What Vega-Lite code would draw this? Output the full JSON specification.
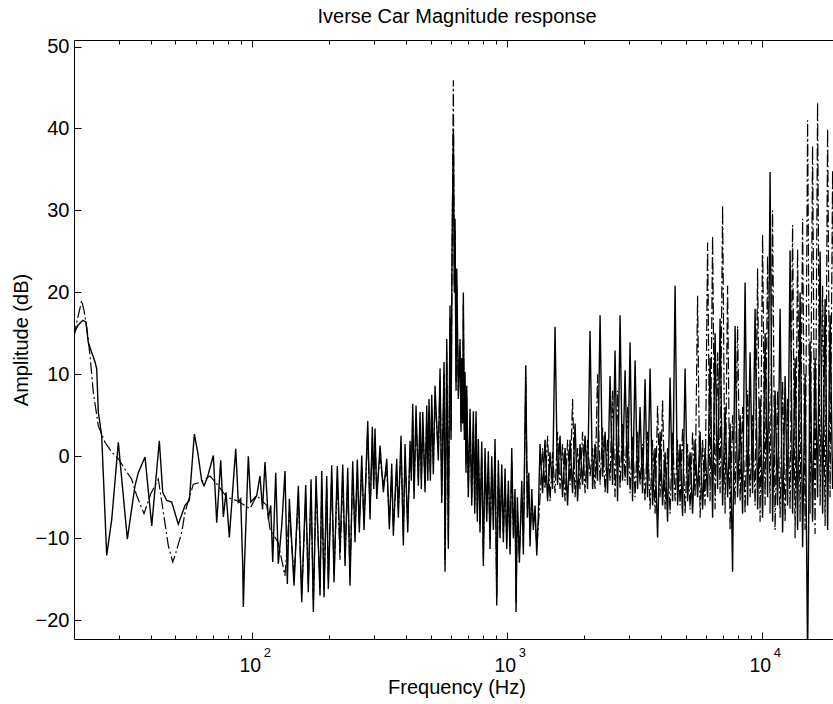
{
"$schema":"https://vega.github.io/schema/vega-lite/v6.json",
"width":759,"height":599,
"autosize":{"type":"none"},
"padding":{"left":74,"top":40,"right":0,"bottom":65},
"background":"white",
"config":{"view":{"stroke":null},"font":"Liberation Sans",
 "axis":{"grid":false,"domainColor":"black","tickColor":"black","labelColor":"black","titleColor":"black","labelFont":"Liberation Sans","titleFont":"Liberation Sans","labelFontSize":20,"titleFontSize":20,"titleFontWeight":"normal","domainWidth":1,"tickWidth":1,"labelFlush":false}},
"title":{"text":"Iverse Car Magnitude response","font":"Liberation Sans","fontSize":20,"fontWeight":"normal","color":"black","anchor":"middle","baseline":"alphabetic","offset":-6,"dx":3.5},
"datasets":{
"solid":[
{"f":20.0,"db":15.0},{"f":20.74,"db":16.0},{"f":21.63,"db":16.6},{"f":22.28,"db":16.4},{"f":22.75,"db":13.9},{"f":24.18,"db":11.5},{"f":24.55,"db":10.7},{"f":24.91,"db":5.4},{"f":25.68,"db":2.5},{"f":26.87,"db":-12.1},{"f":28.12,"db":-7.7},{"f":29.84,"db":1.7},{"f":32.37,"db":-10.1},{"f":34.69,"db":-3.6},{"f":35.74,"db":-2.0},{"f":37.98,"db":-0.1},{"f":40.35,"db":-8.5},{"f":41.56,"db":-4.0},{"f":43.22,"db":1.9},{"f":44.55,"db":-4.4},{"f":46.19,"db":-5.4},{"f":48.33,"db":-5.6},{"f":51.29,"db":-8.3},{"f":54.5,"db":-6.0},{"f":56.66,"db":-5.4},{"f":59.27,"db":2.7},{"f":61.11,"db":0.5},{"f":63.37,"db":-3.0},{"f":64.69,"db":-3.6},{"f":66.66,"db":-2.6},{"f":70.37,"db":0.1},{"f":72.56,"db":-8.1},{"f":75.22,"db":-0.5},{"f":77.02,"db":-7.4},{"f":78.91,"db":-4.4},{"f":81.31,"db":-9.9},{"f":83.53,"db":-4.8},{"f":86.13,"db":0.9},{"f":88.17,"db":-5.6},{"f":90.11,"db":-5.2},{"f":91.76,"db":-13.4},{"f":92.26,"db":-18.4},{"f":93.27,"db":-13.0},{"f":96.51,"db":0.0},{"f":98.62,"db":-5.6},{"f":104.12,"db":-4.8},{"f":107.26,"db":-2.4},{"f":109.71,"db":-6.5},{"f":112.21,"db":-0.7},{"f":115.6,"db":-7.7},{"f":118.14,"db":-6.0},{"f":120.3,"db":-12.9},{"f":123.6,"db":-2.0},{"f":126.52,"db":-13.1},{"f":130.49,"db":-8.5},{"f":134.43,"db":-1.8},{"f":137.26,"db":-15.6},
{"f":139.78,"db":-5.2},{"f":145.83,"db":-15.8},{"f":151.6,"db":-3.6},{"f":156.29,"db":-17.8},{"f":162.03,"db":-3.5},{"f":165.86,"db":-16.6},{"f":170.03,"db":-2.8},{"f":173.61,"db":-19.0},{"f":177.88,"db":-2.4},{"f":184.4,"db":-17.0},{"f":187.26,"db":-1.8},{"f":191.18,"db":-17.2},{"f":195.91,"db":-2.4},{"f":198.73,"db":-16.2},{"f":204.94,"db":-1.1},{"f":209.22,"db":-15.4},{"f":215.56,"db":-1.2},{"f":220.9,"db":-11.7},{"f":226.35,"db":-1.0},{"f":231.1,"db":-13.4},{"f":236.8,"db":-1.4},{"f":241.7,"db":-15.8},{"f":247.66,"db":-0.6},{"f":252.86,"db":-10.5},{"f":258.19,"db":-0.4},{"f":262.92,"db":-9.3},{"f":268.71,"db":0.1},{"f":274.33,"db":-9.0},{"f":283.65,"db":4.3},{"f":289.6,"db":-7.7},{"f":295.68,"db":3.6},{"f":299.45,"db":-4.0},{"f":302.97,"db":3.4},{"f":307.67,"db":-5.2},{"f":317.0,"db":1.3},{"f":326.6,"db":-4.4},{"f":336.8,"db":-0.3},{"f":344.8,"db":-8.9},{"f":352.3,"db":-0.9},{"f":357.4,"db":-9.7},{"f":368.5,"db":-0.3},{"f":373.9,"db":-7.5},{"f":383.1,"db":2.5},{"f":391.2,"db":-10.9},{"f":397.2,"db":1.5},{"f":407.0,"db":-9.3},{"f":415.6,"db":1.9},{"f":420.5,"db":-3.0},{"f":425.9,"db":6.4},{"f":430.9,"db":-5.2},{"f":438.7,"db":6.2},{"f":447.9,"db":-3.6},{"f":454.9,"db":5.4},{"f":460.3,"db":-4.0},{"f":466.2,"db":5.4},{"f":475.9,"db":-4.4},{"f":483.3,"db":6.2},{"f":487.7,"db":-3.0},{"f":493.4,"db":7.0},{"f":499.2,"db":-3.0},{"f":505.5,"db":7.5},{"f":512.9,"db":-2.2},{"f":520.8,"db":8.6},{"f":536.5,"db":-0.5},{"f":544.9,"db":10.7},{"f":553.4,"db":-5.7},{"f":564.9,"db":11.5},{"f":570.1,"db":-14.1},{"f":578.9,"db":14.3},{"f":587.3,"db":-11.3},{"f":596.4,"db":18.4},{"f":601.8,"db":2.0},{"f":607.3,"db":25.0},{"f":614.5,"db":40.0},{"f":620.0,"db":20.0},{"f":623.9,"db":29.0},{"f":629.6,"db":8.0},{"f":633.6,"db":22.9},{"f":642.8,"db":7.0},{"f":652.7,"db":14.3},{"f":658.6,"db":3.0},{"f":662.9,"db":12.0},{"f":668.8,"db":4.0},{"f":672.4,"db":20.0},{"f":678.6,"db":2.0},{"f":682.8,"db":10.3},{"f":689.0,"db":-2.0},{"f":693.4,"db":8.6},{"f":703.4,"db":-5.0},{"f":714.4,"db":5.8},{"f":725.5,"db":-6.0},{"f":736.1,"db":5.5},{"f":745.4,"db":-7.0},{"f":754.2,"db":5.5},{"f":763.1,"db":-8.0},{"f":769.9,"db":2.1},{"f":781.9,"db":-9.3},{"f":794.0,"db":1.8},{"f":805.6,"db":-13.4},{"f":818.0,"db":1.0},{"f":830.7,"db":-8.0},{"f":842.7,"db":0.6},{"f":855.8,"db":-11.3},{"f":869.1,"db":0.0},{"f":881.8,"db":-9.0},{"f":895.3,"db":2.1},{"f":909.2,"db":-18.2},{"f":922.3,"db":-0.5},{"f":936.7,"db":-10.0},{"f":951.2,"db":-1.0},{"f":965.1,"db":-10.5},{"f":980.0,"db":-1.5},{"f":995.1,"db":-11.3},{"f":1009.5,"db":-3.0},{"f":1025.3,"db":-12.0},{"f":1041.2,"db":1.0},{"f":1056.4,"db":-10.0},{"f":1072.6,"db":-4.0},{"f":1082.4,"db":-19.0},{"f":1095.2,"db":-5.0},{"f":1115.3,"db":-13.0},{"f":1139.6,"db":-3.0},{"f":1156.2,"db":-12.0},{"f":1181.5,"db":11.1},{"f":1198.7,"db":-7.5},{"f":1214.1,"db":-2.0},{"f":1228.2,"db":-11.0},{"f":1247.3,"db":-4.0},{"f":1265.4,"db":-9.0},{"f":1284.9,"db":-6.0},{"f":1304.8,"db":-12.1},{"f":1323.9,"db":-7.0},
{"f":1344,"db":1.5},{"f":1375,"db":-4.5},{"f":1406,"db":2.0},{"f":1439,"db":-5.5},{"f":1471,"db":0.5},{"f":1505,"db":-4.0},{"f":1539,"db":15.8},{"f":1574,"db":-3.5},{"f":1610,"db":2.5},{"f":1647,"db":-5.0},{"f":1685,"db":1.0},{"f":1723,"db":-6.0},{"f":1763,"db":2.0},{"f":1803,"db":-4.5},{"f":1844,"db":4.0},{"f":1886,"db":-5.5},{"f":1929,"db":1.5},{"f":1973,"db":-3.5},{"f":2018,"db":2.5},{"f":2064,"db":-4.0},{"f":2111,"db":15.3},{"f":2160,"db":-4.0},{"f":2209,"db":1.5},{"f":2259,"db":-3.0},{"f":2311,"db":17.2},{"f":2364,"db":-2.5},{"f":2418,"db":3.0},{"f":2473,"db":-4.5},{"f":2529,"db":9.8},{"f":2587,"db":-3.5},{"f":2646,"db":12.9},{"f":2706,"db":-5.5},{"f":2768,"db":17.2},{"f":2831,"db":-3.0},{"f":2896,"db":10.5},{"f":2962,"db":-3.5},{"f":3030,"db":13.9},{"f":3099,"db":-5.5},{"f":3170,"db":11.7},{"f":3242,"db":-4.0},{"f":3316,"db":6.0},{"f":3392,"db":-4.5},{"f":3469,"db":9.4},{"f":3548,"db":-5.0},{"f":3630,"db":10.7},{"f":3713,"db":-6.0},{"f":3798,"db":1.0},{"f":3884,"db":-9.9},{"f":3973,"db":3.0},{"f":4064,"db":-6.0},{"f":4157,"db":0.5},{"f":4251,"db":-8.0},{"f":4348,"db":9.6},{"f":4447,"db":-5.5},{"f":4549,"db":20.8},{"f":4653,"db":-6.0},{"f":4759,"db":1.5},{"f":4868,"db":-7.3},{"f":4979,"db":10.7},{"f":5093,"db":-5.5},{"f":5209,"db":0.5},{"f":5328,"db":-7.0},{"f":5450,"db":2.0},{"f":5574,"db":-5.0},{"f":5701,"db":3.0},{"f":5831,"db":-6.5},{"f":5964,"db":1.0},{"f":6101,"db":-5.0},{"f":6240,"db":12.0},{"f":6383,"db":-7.5},{"f":6528,"db":15.0},{"f":6677,"db":-4.0},{"f":6830,"db":16.8},{"f":6986,"db":-6.0},{"f":7145,"db":6.0},{"f":7309,"db":-5.0},{"f":7475,"db":4.0},{"f":7646,"db":-14.1},{"f":7820,"db":15.9},{"f":7999,"db":-5.0},{"f":8181,"db":5.0},{"f":8368,"db":-7.0},{"f":8559,"db":21.2},{"f":8754,"db":-6.0},{"f":8955,"db":12.7},{"f":9159,"db":-4.5},{"f":9369,"db":18.0},{"f":9583,"db":-6.5},{"f":9800,"db":7.0},{"f":10024,"db":-7.5},{"f":10253,"db":15.0},{"f":10487,"db":-5.0},{"f":10726,"db":34.7},{"f":10971,"db":-8.0},{"f":11221,"db":8.0},{"f":11478,"db":-6.0},{"f":11740,"db":18.0},{"f":12008,"db":-9.3},{"f":12282,"db":9.8},{"f":12563,"db":-6.0},{"f":12850,"db":25.1},{"f":13143,"db":-7.0},{"f":13443,"db":12.0},{"f":13751,"db":-9.0},{"f":14066,"db":20.0},{"f":14387,"db":-11.1},{"f":14716,"db":10.0},{"f":15052,"db":-25.0},{"f":15390,"db":14.0},{"f":15741,"db":-8.0},{"f":16101,"db":12.0},{"f":16469,"db":-5.0},{"f":16850,"db":25.0},{"f":17235,"db":-7.0},{"f":17628,"db":19.2},{"f":18031,"db":-9.0},{"f":18440,"db":17.2},{"f":18861,"db":-4.0},{"f":19292,"db":5.0}
],
"dash":[
{"f":20.0,"db":14.5},{"f":20.55,"db":16.5},{"f":21.44,"db":19.0},{"f":21.89,"db":17.8},{"f":22.49,"db":15.5},{"f":23.11,"db":12.3},{"f":23.81,"db":7.8},{"f":24.91,"db":3.7},{"f":26.46,"db":1.7},{"f":28.12,"db":0.5},{"f":29.84,"db":-0.3},{"f":31.7,"db":-1.6},{"f":33.67,"db":-2.8},{"f":35.23,"db":-4.8},{"f":37.63,"db":-7.0},{"f":40.09,"db":-4.5},{"f":42.82,"db":-2.8},{"f":44.8,"db":-6.8},{"f":46.86,"db":-10.9},{"f":48.77,"db":-12.9},{"f":50.24,"db":-11.7},{"f":52.9,"db":-9.3},{"f":54.5,"db":-6.8},{"f":58.74,"db":-3.4},{"f":62.4,"db":-3.2},{"f":68.3,"db":-2.4},{"f":73.6,"db":-3.6},{"f":79.41,"db":-5.0},{"f":86.92,"db":-5.4},{"f":98.0,"db":-6.4},{"f":104.12,"db":-4.8},{"f":113.97,"db":-6.0},{"f":117.4,"db":-8.9},{"f":126.2,"db":-10.5},{"f":134.43,"db":-14.6},
{"f":139.78,"db":-6.7},{"f":145.83,"db":-14.8},{"f":151.6,"db":-5.1},{"f":156.29,"db":-16.8},{"f":162.03,"db":-5.0},{"f":165.86,"db":-15.6},{"f":170.03,"db":-4.3},{"f":173.61,"db":-18.0},{"f":177.88,"db":-3.9},{"f":184.4,"db":-16.0},{"f":187.26,"db":-3.3},{"f":191.18,"db":-16.2},{"f":195.91,"db":-3.9},{"f":198.73,"db":-15.2},{"f":204.94,"db":-2.6},{"f":209.22,"db":-14.4},{"f":215.56,"db":-2.7},{"f":220.9,"db":-12.7},{"f":226.35,"db":-2.5},{"f":231.1,"db":-12.4},{"f":236.8,"db":-2.9},{"f":241.7,"db":-14.8},{"f":247.66,"db":-2.1},{"f":252.86,"db":-9.5},{"f":258.19,"db":-1.9},{"f":262.92,"db":-8.3},{"f":268.71,"db":-1.4},{"f":274.33,"db":-8.0},{"f":283.65,"db":2.8},{"f":289.6,"db":-6.7},{"f":295.68,"db":2.1},{"f":299.45,"db":-3.0},{"f":302.97,"db":1.9},{"f":307.67,"db":-4.2},{"f":317.0,"db":-0.2},{"f":326.6,"db":-3.4},{"f":336.8,"db":-1.8},{"f":344.8,"db":-7.9},{"f":352.3,"db":-2.4},{"f":357.4,"db":-8.7},{"f":368.5,"db":-1.8},{"f":373.9,"db":-6.5},{"f":383.1,"db":1.0},{"f":391.2,"db":-9.9},{"f":397.2,"db":0.0},{"f":407.0,"db":-8.3},{"f":415.6,"db":0.4},{"f":420.5,"db":-2.0},{"f":425.9,"db":4.9},{"f":430.9,"db":-4.2},{"f":438.7,"db":4.7},{"f":447.9,"db":-2.6},{"f":454.9,"db":3.9},{"f":460.3,"db":-3.0},{"f":466.2,"db":3.9},{"f":475.9,"db":-3.4},{"f":483.3,"db":4.7},{"f":487.7,"db":-2.0},{"f":493.4,"db":5.5},{"f":499.2,"db":-2.0},{"f":505.5,"db":6.0},{"f":512.9,"db":-1.2},{"f":520.8,"db":7.1},{"f":536.5,"db":0.5},{"f":544.9,"db":9.2},{"f":553.4,"db":-4.7},{"f":564.9,"db":10.0},{"f":570.1,"db":-13.1},{"f":578.9,"db":12.8},{"f":587.3,"db":-10.3},{"f":596.4,"db":16.9},{"f":601.8,"db":3.0},{"f":607.3,"db":23.5},{"f":614.5,"db":45.9},{"f":620.0,"db":21.0},{"f":623.9,"db":27.5},{"f":629.6,"db":9.0},{"f":633.6,"db":21.4},{"f":642.8,"db":8.0},{"f":652.7,"db":12.8},{"f":658.6,"db":4.0},{"f":662.9,"db":10.5},{"f":668.8,"db":5.0},{"f":672.4,"db":18.5},{"f":678.6,"db":3.0},{"f":682.8,"db":8.8},{"f":689.0,"db":-1.0},{"f":693.4,"db":7.1},{"f":703.4,"db":-4.0},{"f":714.4,"db":4.3},{"f":725.5,"db":-5.0},{"f":736.1,"db":4.0},{"f":745.4,"db":-6.0},{"f":754.2,"db":4.0},{"f":763.1,"db":-7.0},{"f":769.9,"db":0.6},{"f":781.9,"db":-8.3},{"f":794.0,"db":0.3},{"f":805.6,"db":-12.4},{"f":818.0,"db":-0.5},{"f":830.7,"db":-7.0},{"f":842.7,"db":-0.9},{"f":855.8,"db":-10.3},{"f":869.1,"db":-1.5},{"f":881.8,"db":-8.0},{"f":895.3,"db":0.6},{"f":909.2,"db":-17.2},{"f":922.3,"db":-2.0},{"f":936.7,"db":-9.0},{"f":951.2,"db":-2.5},{"f":965.1,"db":-9.5},{"f":980.0,"db":-3.0},{"f":995.1,"db":-10.3},{"f":1009.5,"db":-4.5},{"f":1025.3,"db":-11.0},{"f":1041.2,"db":-0.5},{"f":1056.4,"db":-9.0},{"f":1072.6,"db":-5.5},{"f":1082.4,"db":-18.0},{"f":1095.2,"db":-6.5},{"f":1115.3,"db":-12.0},{"f":1139.6,"db":-4.5},{"f":1156.2,"db":-11.0},{"f":1181.5,"db":9.6},{"f":1198.7,"db":-6.5},{"f":1214.1,"db":-3.5},{"f":1228.2,"db":-10.0},{"f":1247.3,"db":-5.5},{"f":1265.4,"db":-8.0},{"f":1284.9,"db":-7.5},{"f":1304.8,"db":-11.1},{"f":1323.9,"db":-8.5},
{"f":1344,"db":-5.0},{"f":1375,"db":1.0},{"f":1406,"db":-4.0},{"f":1439,"db":2.5},{"f":1471,"db":-5.5},{"f":1505,"db":0.5},{"f":1539,"db":-4.5},{"f":1574,"db":3.0},{"f":1610,"db":-4.0},{"f":1647,"db":1.5},{"f":1685,"db":-5.5},{"f":1723,"db":2.0},{"f":1763,"db":-3.5},{"f":1803,"db":7.0},{"f":1844,"db":-5.0},{"f":1886,"db":1.0},{"f":1929,"db":-4.0},{"f":1973,"db":3.0},{"f":2018,"db":-4.5},{"f":2064,"db":2.0},{"f":2111,"db":-2.5},{"f":2160,"db":1.0},{"f":2209,"db":-4.0},{"f":2259,"db":10.0},{"f":2311,"db":-3.5},{"f":2364,"db":3.5},{"f":2418,"db":-4.5},{"f":2473,"db":2.0},{"f":2529,"db":-3.0},{"f":2587,"db":8.0},{"f":2646,"db":-5.0},{"f":2706,"db":8.0},{"f":2768,"db":-4.0},{"f":2831,"db":4.0},{"f":2896,"db":-3.0},{"f":2962,"db":6.0},{"f":3030,"db":-4.5},{"f":3099,"db":2.5},{"f":3170,"db":-5.0},{"f":3242,"db":3.0},{"f":3316,"db":-3.5},{"f":3392,"db":1.5},{"f":3469,"db":-5.5},{"f":3548,"db":3.0},{"f":3630,"db":-6.5},{"f":3713,"db":2.0},{"f":3798,"db":-7.0},{"f":3884,"db":6.2},{"f":3973,"db":-5.0},{"f":4064,"db":6.8},{"f":4157,"db":-6.5},{"f":4251,"db":1.0},{"f":4348,"db":-7.0},{"f":4447,"db":3.0},{"f":4549,"db":-5.5},{"f":4653,"db":2.0},{"f":4759,"db":-6.0},{"f":4868,"db":3.5},{"f":4979,"db":-7.0},{"f":5093,"db":1.5},{"f":5209,"db":-6.5},{"f":5328,"db":3.0},{"f":5450,"db":-5.0},{"f":5574,"db":19.6},{"f":5701,"db":-7.5},{"f":5831,"db":2.0},{"f":5964,"db":-6.0},{"f":6101,"db":26.1},{"f":6240,"db":-5.5},{"f":6383,"db":26.9},{"f":6528,"db":-6.5},{"f":6677,"db":12.7},{"f":6830,"db":-4.5},{"f":6986,"db":30.6},{"f":7145,"db":-7.0},{"f":7309,"db":20.8},{"f":7475,"db":-9.0},{"f":7646,"db":5.0},{"f":7820,"db":-6.0},{"f":7999,"db":15.9},{"f":8181,"db":-5.5},{"f":8368,"db":6.0},{"f":8559,"db":-7.0},{"f":8754,"db":8.0},{"f":8955,"db":-5.0},{"f":9159,"db":5.0},{"f":9369,"db":-6.0},{"f":9583,"db":22.9},{"f":9800,"db":-8.0},{"f":10024,"db":27.1},{"f":10253,"db":-6.0},{"f":10487,"db":24.5},{"f":10726,"db":-7.0},{"f":10971,"db":30.0},{"f":11221,"db":-9.0},{"f":11478,"db":8.0},{"f":11740,"db":-7.5},{"f":12008,"db":9.2},{"f":12282,"db":-8.0},{"f":12563,"db":7.0},{"f":12850,"db":-6.5},{"f":13143,"db":28.2},{"f":13443,"db":-10.0},{"f":13751,"db":25.3},{"f":14066,"db":-8.0},{"f":14387,"db":29.0},{"f":14716,"db":-9.0},{"f":15052,"db":41.0},{"f":15390,"db":-7.0},{"f":15741,"db":37.9},{"f":16101,"db":-9.5},{"f":16469,"db":43.2},{"f":16850,"db":-6.0},{"f":17235,"db":20.8},{"f":17628,"db":-8.5},{"f":18031,"db":40.0},{"f":18440,"db":-5.0},{"f":18861,"db":34.9},{"f":19292,"db":-3.0}
]},
"layer":[
{"data":{"name":"solid"},
 "mark":{"type":"line","color":"black","strokeWidth":1.4,"clip":true},
 "encoding":{
  "x":{"field":"f","type":"quantitative","scale":{"type":"log","domain":[20,18930],"nice":false},
   "axis":{"orient":"bottom","values":[100,1000,10000],"tickSize":-7,"labelExpr":"'10'","labelFontSize":19.5,"labelPadding":24.5,"labelOffset":-2.5,"labelBaseline":"top","title":"Frequency (Hz)","titleX":382.5,"titleY":54,"titleBaseline":"alphabetic","titleAlign":"center"}},
  "y":{"field":"db","type":"quantitative","scale":{"domain":[-22.3,50.8],"nice":false,"zero":false},
   "axis":{"orient":"left","values":[-20,-10,0,10,20,30,40,50],"tickSize":-7,"labelPadding":12,"title":"Amplitude (dB)","titleX":-53,"titleY":299.5,"titleAngle":-90,"titleAlign":"center","titleBaseline":"middle"}}}},
{"data":{"name":"dash"},
 "mark":{"type":"line","color":"black","strokeWidth":1.2,"strokeDash":[12,3,2,3],"clip":true},
 "encoding":{
  "x":{"field":"f","type":"quantitative","scale":{"type":"log","domain":[20,18930],"nice":false},
   "axis":{"orient":"bottom","values":[100,1000,10000],"tickSize":0,"domain":false,"labelExpr":"datum.value == 100 ? '2' : datum.value == 1000 ? '3' : '4'","labelFontSize":13,"labelPadding":7,"labelAlign":"left","labelOffset":11,"labelBaseline":"top","title":null}},
  "y":{"field":"db","type":"quantitative","scale":{"domain":[-22.3,50.8],"nice":false,"zero":false},"axis":null}}},
{"data":{"values":[]},
 "mark":{"type":"point","opacity":0},
 "encoding":{
  "x":{"field":"f","type":"quantitative","scale":{"type":"log","domain":[20,18930],"nice":false},
   "axis":{"orient":"bottom","values":[30,40,50,60,70,80,90,200,300,400,500,600,700,800,900,2000,3000,4000,5000,6000,7000,8000,9000],"tickSize":-4,"labels":false,"domain":false,"title":null}},
  "y":{"field":"db","type":"quantitative","scale":{"domain":[-22.3,50.8],"nice":false,"zero":false},"axis":null}}},
{"data":{"values":[]},
 "mark":{"type":"point","opacity":0},
 "encoding":{
  "x":{"field":"f","type":"quantitative","scale":{"type":"log","domain":[20,18930],"nice":false},
   "axis":{"orient":"top","values":[100,1000,10000],"tickSize":-7,"labels":false,"domain":true,"title":null}},
  "y":{"field":"db","type":"quantitative","scale":{"domain":[-22.3,50.8],"nice":false,"zero":false},"axis":null}}},
{"data":{"values":[]},
 "mark":{"type":"point","opacity":0},
 "encoding":{
  "x":{"field":"f","type":"quantitative","scale":{"type":"log","domain":[20,18930],"nice":false},
   "axis":{"orient":"top","values":[30,40,50,60,70,80,90,200,300,400,500,600,700,800,900,2000,3000,4000,5000,6000,7000,8000,9000],"tickSize":-4,"labels":false,"domain":false,"title":null}},
  "y":{"field":"db","type":"quantitative","scale":{"domain":[-22.3,50.8],"nice":false,"zero":false},"axis":null}}}
],
"resolve":{"axis":{"x":"independent","y":"independent"}}
}
